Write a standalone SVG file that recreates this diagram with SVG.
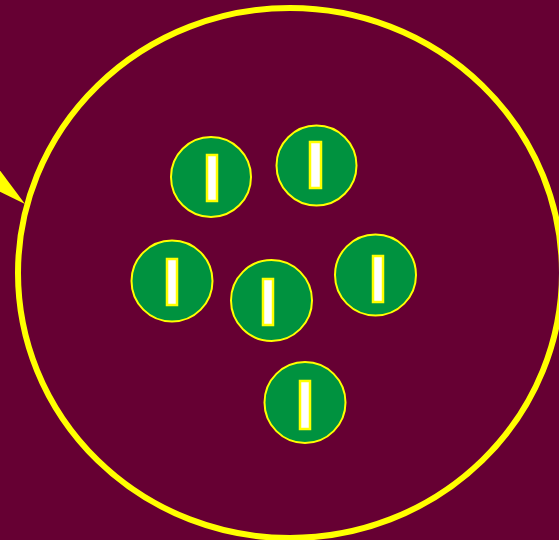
<svg xmlns="http://www.w3.org/2000/svg" width="559" height="540" viewBox="0 0 559 540">
  <style>
    .cell { fill: #00923F; stroke: #FFFF00; stroke-width: 2; }
    .bar { fill: #FFFFFF; stroke: #FFFF00; stroke-width: 2.5; }
  </style>
  <rect x="0" y="0" width="559" height="540" fill="#660033"/>
  <g id="membrane">
    <ellipse cx="290" cy="273" rx="272" ry="265" fill="none" stroke="#FFFF00" stroke-width="6"/>
    <polygon points="-10,157 25,204 -10,187" fill="#FFFF00"/>
  </g>
  <g id="node1">
    <circle class="cell" cx="211" cy="177" r="40"/>
    <rect class="bar" x="207" y="155" width="10" height="46"/>
  </g>
  <g id="node2">
    <circle class="cell" cx="316.5" cy="165.5" r="40"/>
    <rect class="bar" x="310" y="142" width="11" height="46"/>
  </g>
  <g id="node3">
    <circle class="cell" cx="172" cy="281" r="40.5"/>
    <rect class="bar" x="167" y="259" width="10" height="46"/>
  </g>
  <g id="node4">
    <circle class="cell" cx="271.5" cy="300.5" r="40.5"/>
    <rect class="bar" x="263" y="279" width="10" height="46"/>
  </g>
  <g id="node5">
    <circle class="cell" cx="375.5" cy="275" r="40.5"/>
    <rect class="bar" x="373" y="256" width="10" height="46"/>
  </g>
  <g id="node6">
    <circle class="cell" cx="305" cy="402.5" r="40.5"/>
    <rect class="bar" x="300" y="381" width="10" height="48"/>
  </g>
  <g id="connectors"/>
</svg>
